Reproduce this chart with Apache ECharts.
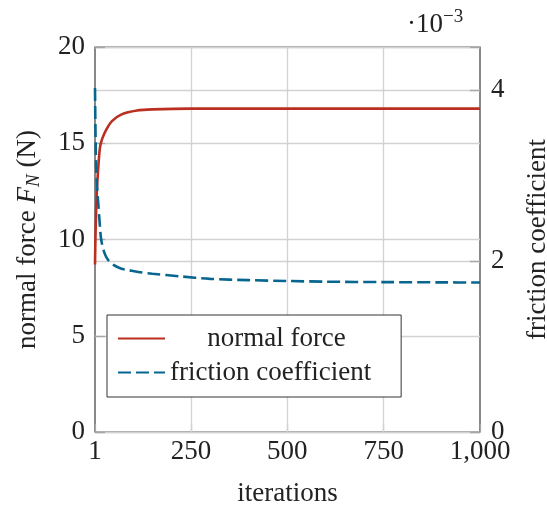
<!DOCTYPE html>
<html><head><meta charset="utf-8">
<script src="https://cdn.jsdelivr.net/npm/echarts@6/dist/echarts.min.js"></script>
<style>html,body{margin:0;padding:0;background:#fff}#c{width:547px;height:505px}</style>
</head><body><div id="c"></div>
<script>
// ---- data ----
const forceIter   = [1, 2, 3, 4, 6, 9, 14, 20, 30, 45, 70, 110, 150, 250, 400, 600, 800, 1000];
const forceValues = [8.7, 9.9, 10.8, 11.5, 12.6, 13.6, 14.8, 15.25, 15.7, 16.15, 16.5, 16.7, 16.76, 16.8, 16.8, 16.8, 16.8, 16.8];
const frictionIter   = [1, 2, 3, 4, 6, 9, 13, 17, 25, 35, 50, 68, 90, 113, 150, 220, 300, 400, 500, 600, 750, 900, 1000];
const frictionValues = [4.02, 3.6, 3.3, 3.1, 2.88, 2.7, 2.45, 2.25, 2.1, 2.01, 1.95, 1.91, 1.89, 1.87, 1.85, 1.82, 1.79, 1.775, 1.765, 1.757, 1.752, 1.749, 1.747]; // ×10^-3
const xTickValues = [1, 250, 500, 750, 1000];
const xGridValues = [250, 500, 750];
const seriesNames = ['normal force', 'friction coefficient'];

const FONT = 'Liberation Serif';
const FS = 27;
const TXT = '#222';
const GRID = '#d2d2d2';
const TICK = '#a6a6a6';
const RED = '#BA2F1F';
const BLUE = '#07668F';

const chart = echarts.init(document.getElementById('c'), null, {renderer: 'canvas'});
const pairs = (xs, ys) => xs.map((x, i) => [x, ys[i]]);

chart.setOption({
  animation: false,
  textStyle: {fontFamily: FONT},
  grid: {left: 95, right: 67, top: 47, bottom: 73, show: true, borderColor: '#3a3a3a', borderWidth: 1.2,
    backgroundColor: 'transparent', outerBoundsMode: 'none', containLabel: false},
  graphic: [{
    type: 'text', left: 407, top: 8,
    style: {text: '{a|·10}{b|−3}', rich: {
      a: {fontSize: FS, fontFamily: FONT, fill: TXT, lineHeight: 30, verticalAlign: 'bottom'},
      b: {fontSize: 19, fontFamily: FONT, fill: TXT, lineHeight: 19, verticalAlign: 'top'}
    }}
  }],
  legend: {
    data: seriesNames,
    left: 107, top: 315, orient: 'vertical',
    backgroundColor: '#fff', borderColor: '#333', borderWidth: 1, borderRadius: 0,
    padding: [10, 30, 11, 10],
    itemWidth: 47, itemHeight: 26, itemGap: 7,
    itemStyle: {color: 'rgba(0,0,0,0)', borderWidth: 0, opacity: 0},
    formatter: n => n === 'normal force' ? '{c|' + n + '}' : '{l|' + n + '}',
    textStyle: {fontFamily: FONT, fontSize: FS, color: TXT, rich: {
      c: {width: 213, align: 'center', fontFamily: FONT, fontSize: FS, color: TXT},
      l: {width: 213, align: 'left', fontFamily: FONT, fontSize: FS, color: TXT}
    }}
  },
  xAxis: [{
    type: 'value', min: 1, max: 1000, position: 'bottom',
    name: 'iterations', nameLocation: 'middle', nameGap: 48,
    nameTextStyle: {fontFamily: FONT, fontSize: FS, color: TXT},
    axisLine: {show: false},
    axisTick: {show: true, inside: true, length: 8, customValues: xTickValues, lineStyle: {color: TICK, width: 1.2}},
    axisLabel: {customValues: xTickValues, fontFamily: FONT, fontSize: FS, color: TXT, margin: 6,
      formatter: v => Number(v).toLocaleString('en-US')},
    splitLine: {show: false}
  }],
  yAxis: [{
    type: 'value', min: 0, max: 20, interval: 5, position: 'left',
    name: 'normal force {i|F}{s|N} (N)', nameLocation: 'middle', nameGap: 52,
    nameTextStyle: {fontFamily: FONT, fontSize: FS, color: TXT, lineHeight: 30, rich: {
      i: {fontFamily: FONT, fontSize: FS, fontStyle: 'italic', color: TXT, lineHeight: 30},
      s: {fontFamily: FONT, fontSize: 19, fontStyle: 'italic', color: TXT, lineHeight: 19, verticalAlign: 'bottom'}
    }},
    axisLine: {show: false},
    axisTick: {show: true, inside: true, length: 10, lineStyle: {color: TICK, width: 1.2}},
    axisLabel: {fontFamily: FONT, fontSize: FS, color: TXT, margin: 10},
    splitLine: {show: true, lineStyle: {color: GRID, width: 1.3}}
  }, {
    type: 'value', min: 0, max: 4.5, interval: 2, position: 'right',
    name: 'friction coefficient', nameLocation: 'middle', nameGap: 44,
    nameTextStyle: {fontFamily: FONT, fontSize: FS, color: TXT},
    axisLine: {show: false},
    axisTick: {show: true, inside: true, length: 10, lineStyle: {color: TICK, width: 1.2}},
    axisLabel: {fontFamily: FONT, fontSize: FS, color: TXT, margin: 11, showMaxLabel: false},
    splitLine: {show: true, lineStyle: {color: GRID, width: 1.3}}
  }, {
    type: 'value', min: 0, max: 20, interval: 5, position: 'left',
    axisLine: {show: false}, axisLabel: {show: false}, splitLine: {show: false},
    axisTick: {show: true, inside: true, length: 10, lineStyle: {color: TICK, width: 1.2}}
  }, {
    type: 'value', min: 0, max: 4.5, interval: 2, position: 'right',
    axisLine: {show: false}, axisLabel: {show: false}, splitLine: {show: false},
    axisTick: {show: true, inside: true, length: 10, lineStyle: {color: TICK, width: 1.2}}
  }],
  series: [{
    name: seriesNames[0], type: 'line', xAxisIndex: 0, yAxisIndex: 0,
    data: pairs(forceIter, forceValues), symbol: 'none', smooth: 0.3, z: 3,
    lineStyle: {color: RED, width: 2.6}, itemStyle: {color: RED},
    markLine: {
      silent: true, symbol: 'none', z: 1, animation: false,
      label: {show: false},
      lineStyle: {color: GRID, width: 1.3, type: 'solid'},
      emphasis: {disabled: true},
      data: xGridValues.map(v => ({xAxis: v}))
    }
  }, {
    name: seriesNames[1], type: 'line', xAxisIndex: 0, yAxisIndex: 1,
    data: pairs(frictionIter, frictionValues), symbol: 'none', smooth: 0.3, z: 3,
    lineStyle: {color: BLUE, width: 2.6, type: [13, 5]}, itemStyle: {color: BLUE}
  }]
});
</script></body></html>
